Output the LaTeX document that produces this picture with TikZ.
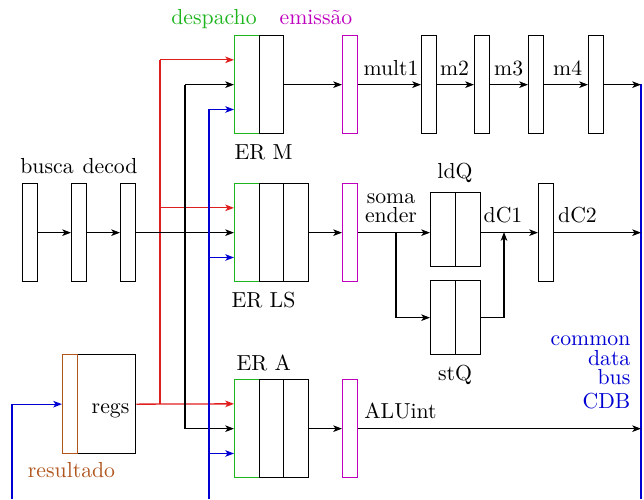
\documentclass[tikz,border=0pt]{standalone}
\usetikzlibrary{arrows.meta,calc}
\definecolor{cgreen}{RGB}{30,180,30}
\definecolor{cmag}{RGB}{190,0,190}
\definecolor{cred}{RGB}{225,30,30}
\definecolor{cblue}{RGB}{0,0,210}
\definecolor{cbrown}{RGB}{175,85,30}
\newdimen\ux \ux=0.46pt
\begin{document}
\begin{tikzpicture}[x=0.46pt,y=-0.46pt,line width=0.6pt,
  stg/.style={draw,inner sep=0,anchor=north west,minimum width=15\ux,minimum height=98\ux},
  erc/.style={draw,inner sep=0,anchor=north west,minimum width=24.5\ux,minimum height=98\ux},
  qc/.style={draw,inner sep=0,anchor=north west,minimum width=25\ux,minimum height=74\ux},
  lbl/.style={inner sep=0,anchor=base},
  arr/.style={-{Stealth[length=4pt,width=3pt,inset=1pt]}}]
\useasboundingbox (0,0) rectangle (644,499);
% pipeline front
\node[stg] (b1) at (22,183) {};
\node[stg] (b2) at (71,183) {};
\node[stg] (b3) at (120,183) {};
% reservation stations
\node[erc,draw=cgreen] (gm) at (234,35) {};
\node[erc] (m1c) at (258.5,35) {};
\node[erc,draw=cgreen] (gls) at (234,183) {};
\node[erc] (ls1) at (258.5,183) {};
\node[erc] (ls2) at (283,183) {};
\node[erc,draw=cgreen] (ga) at (234,379) {};
\node[erc] (a1) at (258.5,379) {};
\node[erc] (a2) at (283,379) {};
% emission
\node[stg,draw=cmag] (e1) at (342,35) {};
\node[stg,draw=cmag] (e2) at (342,183) {};
\node[stg,draw=cmag] (e3) at (342,379) {};
% mult pipeline
\node[stg] (p1) at (421,35) {};
\node[stg] (p2) at (474,35) {};
\node[stg] (p3) at (528,35) {};
\node[stg] (p4) at (588,35) {};
% load/store queues
\node[qc] (l1) at (430,192) {};
\node[qc] (l2) at (455,192) {};
\node[qc] (s1) at (430,280) {};
\node[qc] (s2) at (455,280) {};
\node[stg] (d2) at (538,183) {};
% registers
\node[draw,inner sep=0,anchor=north west,minimum width=58\ux,minimum height=99\ux] (rg) at (77,354) {};
\node[draw=cbrown,inner sep=0,anchor=north west,minimum width=15\ux,minimum height=99\ux] (rb) at (62,354) {};
% coordinates
\coordinate (gmR) at ($(gm.north west)!.25!(gm.south west)$);
\coordinate (gmB) at ($(gm.north west)!.75!(gm.south west)$);
\coordinate (glsR) at ($(gls.north west)!.25!(gls.south west)$);
\coordinate (glsB) at ($(gls.north west)!.75!(gls.south west)$);
\coordinate (gaR) at ($(ga.north west)!.25!(ga.south west)$);
\coordinate (gaB) at ($(ga.north west)!.75!(ga.south west)$);
\coordinate (rj) at (160,403.5);
\coordinate (bj) at (185,232);
\coordinate (uj) at (209,499);
\coordinate (ul) at (12,499);
\coordinate (cdbT) at (641,84);
\coordinate (cdbB) at (641,499);
\coordinate (sj) at (396,232);
\coordinate (cj) at (504,232);
% red connections
\draw[cred,arr] (rg.east) -- (gaR);
\draw[cred] (rj) -- (rj |- gmR);
\draw[cred,arr] (rj |- gmR) -- (gmR);
\draw[cred,arr] (rj |- glsR) -- (glsR);
% black connections
\draw[arr] (b1.east) -- (b2.west);
\draw[arr] (b2.east) -- (b3.west);
\draw[arr] (b3.east) -- (gls.west);
\draw (bj |- gm.west) -- (bj |- ga.west);
\draw[arr] (bj |- gm.west) -- (gm.west);
\draw[arr] (bj |- ga.west) -- (ga.west);
% blue connections
\draw[cblue] (uj) -- (uj |- gmB);
\draw[cblue,arr] (uj |- gmB) -- (gmB);
\draw[cblue,arr] (uj |- glsB) -- (glsB);
\draw[cblue,arr] (uj |- gaB) -- (gaB);
\draw[cblue,arr] (ul) -- (ul |- rb.west) -- (rb.west);
\draw[cblue] (cdbB) -- (cdbT);
% mult row
\draw[arr] (m1c.east) -- (e1.west);
\draw[arr] (e1.east) -- (p1.west);
\draw[arr] (p1.east) -- (p2.west);
\draw[arr] (p2.east) -- (p3.west);
\draw[arr] (p3.east) -- (p4.west);
\draw[arr] (p4.east) -- (p4.east -| cdbT);
% load/store row
\draw[arr] (ls2.east) -- (e2.west);
\draw[arr] (e2.east) -- (e2.east -| l1.west);
\draw[arr] (sj) -- (sj |- s1.west) -- (s1.west);
\draw[arr] (s2.east) -- (s2.east -| cj) -- (cj);
\draw[arr] (e2.east -| l2.east) -- (d2.west);
\draw[arr] (d2.east) -- (d2.east -| cdbT);
% ALU row
\draw[arr] (a2.east) -- (e3.west);
\draw[arr] (e3.east) -- (e3.east -| cdbT);
% labels
\node[lbl,text=cgreen] (tdesp) at (214,24) {despacho};
\node[lbl,text=cmag] (temis) at (316,24) {emissão};
\node[lbl,anchor=base west] (term) at (234,159) {ER M};
\node[lbl,anchor=base west] (terls) at (231,307) {ER LS};
\node[lbl,anchor=base west] (tera) at (236,370) {ER A};
\node[lbl] (tbusca) at (47,173) {busca};
\node[lbl] (tdecod) at (110,173) {decod};
\node[lbl] (tmult) at (391,75) {mult1};
\node[lbl] (tm2) at (454.5,75) {m2};
\node[lbl] (tm3) at (508.7,75) {m3};
\node[lbl] (tm4) at (567.7,75) {m4};
\node[lbl] (tldq) at (455,178) {ldQ};
\node[lbl] (tstq) at (455,380) {stQ};
\node[lbl] (tsoma) at (391,203) {soma};
\node[lbl] (tender) at (391,222) {ender};
\node[lbl] (tdc1) at (503,222) {dC1};
\node[lbl] (tdc2) at (577.5,222) {dC2};
\node[lbl] (talu) at (400.5,418) {ALUint};
\node[lbl,anchor=base east,text=cblue] (tcom) at (631,345) {common};
\node[lbl,anchor=base east,text=cblue] (tdata) at (631,365) {data};
\node[lbl,anchor=base east,text=cblue] (tbus) at (631,384) {bus};
\node[lbl,anchor=base east,text=cblue] (tcdb) at (631,408) {CDB};
\node[lbl,anchor=base east] (tregs) at (130,413) {regs};
\node[lbl,text=cbrown] (tres) at (71.5,477) {resultado};
\end{tikzpicture}
\end{document}
